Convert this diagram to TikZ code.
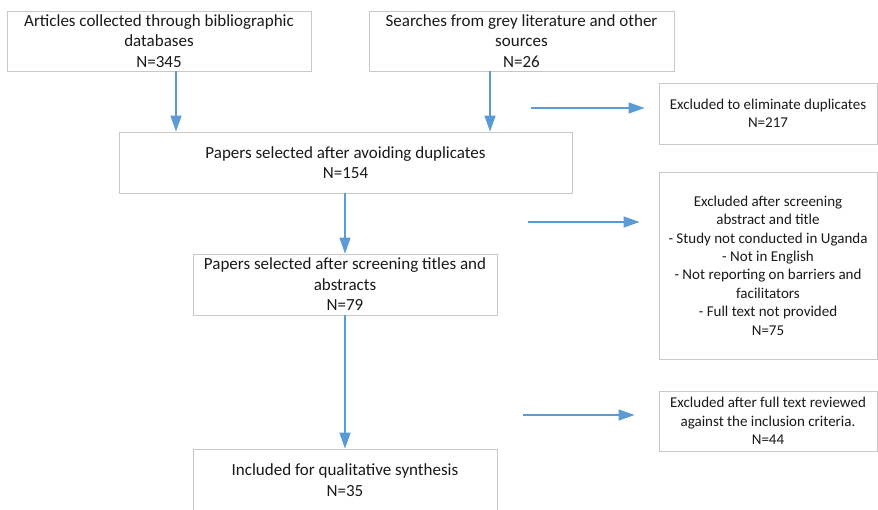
\documentclass[tikz,border=0pt]{standalone}
\usepackage{fontspec}
\setmainfont{Carlito}
\usetikzlibrary{arrows.meta,backgrounds}
\definecolor{arrowblue}{HTML}{5B9BD5}
\definecolor{boxline}{HTML}{C8C8C8}
\definecolor{glowc}{HTML}{D3DFEE}
\definecolor{txt}{HTML}{1A1A1A}
\begin{document}
\begin{tikzpicture}[x=1pt,y=-1pt,
  box/.style={draw=boxline, line width=0.9pt, fill=white, inner sep=0pt, align=center, text=txt},
  mainbox/.style={box, font=\fontsize{17}{20.5}\selectfont},
  exbox/.style={box, font=\fontsize{15}{18.4}\selectfont},
  arr/.style={draw=arrowblue, line width=1.4pt, -{Triangle[length=16pt,width=11pt]}},
  glow/.style={top color=white, bottom color=glowc}]
\fill[white] (0,0) rectangle (878,509);
\useasboundingbox (0,0) rectangle (878,509);

\node[mainbox, minimum width=304pt, minimum height=60pt] (A) at (159,41)
  {Articles collected through bibliographic\\databases\\N=345};
\node[mainbox, minimum width=305pt, minimum height=60pt] (B) at (521.5,41)
  {Searches from grey literature and other\\sources\\N=26};
\node[mainbox, minimum width=453pt, minimum height=61pt] (C) at (345.5,162.5)
  {Papers selected after avoiding duplicates\\N=154};
\node[mainbox, minimum width=304pt, minimum height=61pt] (D) at (345,284.5)
  {Papers selected after screening titles and\\abstracts\\N=79};
\node[mainbox, minimum width=304pt, minimum height=62pt] (F) at (345,480)
  {Included for qualitative synthesis\\N=35};

\node[exbox, minimum width=218pt, minimum height=61pt] (E1) at (768,113.5)
  {Excluded to eliminate duplicates\\N=217};
\node[exbox, minimum width=218pt, minimum height=187pt] (E2) at (768,265.5)
  {Excluded after screening\\abstract and title\\- Study not conducted in Uganda\\- Not in English\\- Not reporting on barriers and\\facilitators\\- Full text not provided\\N=75};
\node[exbox, minimum width=218pt, minimum height=60pt] (E3) at (768,421)
  {Excluded after full text reviewed\\against the inclusion criteria.\\N=44};

\begin{scope}[on background layer]
\foreach \n in {A,B,C,D,F,E1,E2,E3}
  \shade[glow] ([xshift=-1.5pt]\n.north west) rectangle ([xshift=1.5pt,yshift=4.5pt]\n.north east);
\end{scope}

\coordinate (xa) at (176,0);
\coordinate (xb) at (490,0);
\coordinate (xc) at (345,0);
\draw[arr] (A.south -| xa) -- (C.north -| xa);
\draw[arr] (B.south -| xb) -- (C.north -| xb);
\draw[arr] (C.south -| xc) -- (D.north -| xc);
\draw[arr] (D.south -| xc) -- (F.north -| xc);

\coordinate (s1) at (531,108);
\coordinate (s2) at (528,222);
\coordinate (s3) at (523,415);
\draw[arr, shorten >=14pt] (s1) -- (s1 -| E1.west);
\draw[arr, shorten >=19pt] (s2) -- (s2 -| E2.west);
\draw[arr, shorten >=24pt] (s3) -- (s3 -| E3.west);
\end{tikzpicture}
\end{document}
